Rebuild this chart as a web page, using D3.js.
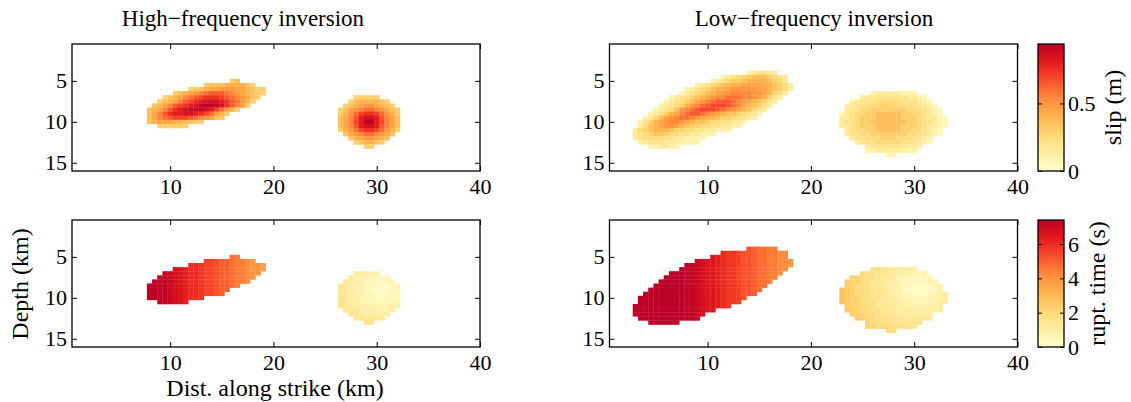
<!DOCTYPE html>
<html><head><meta charset="utf-8">
<script src="https://cdn.jsdelivr.net/npm/d3@7"></script>
<style>
body{margin:0;background:#fff}
text{font-family:"Liberation Serif","Times New Roman",serif;fill:#000}
</style></head>
<body><svg id="chart" width="1131" height="402"></svg>
<script>
// ---------- data ----------
const xTicks = [10, 20, 30, 40];
const yTicks = [5, 10, 15];
const xDomain = [0.5, 40];      // km along strike
const yDomain = [0.5, 16];      // km depth
const slipTicks = [0, 0.5];
const slipMax = 0.94;
const timeTicks = [0, 2, 4, 6];
const timeMax = 7.4;
const cellKm = 0.5;             // grid spacing (km)
const slipStep = 0.05;          // m per level (base-36 char)
const timeStep = 0.25;          // s per level (base-36 char)
const cmapColors = ["#ffffcc","#ffeda0","#fed976","#feb24c","#fd8d3c","#fc4e2a","#e31a1c","#bd0026"];
const titles = ["High\u2212frequency inversion", "Low\u2212frequency inversion"];

// rows: [row index, first column index, levels]; cell centre = index * 0.5 km
const slipHFellipse = [
 [10,32,"67"],
 [11,27,"6777888876"],
 [12,24,"677899aaa998766"],
 [13,21,"6789abcdddcba98766"],
 [14,19,"6789bcdefffedcba976"],
 [15,18,"6789bdefghhhgfdca86"],
 [16,17,"789bdefghijjihfdb96"],
 [17,16,"789bdfghiiihgeca86"],
 [18,16,"79bdfgghhgfeca86"],
 [19,16,"79bcdeeedcba976"],
 [20,16,"78999887766"],
 [21,18,"666666"]
];
const slipHFcircle = [
 [14,56,"66666"],
 [15,55,"67888876"],
 [16,54,"6789aa9876"],
 [17,53,"679abccba976"],
 [18,53,"68aceffeca86"],
 [19,53,"79bdghhgdb97"],
 [20,53,"79begjjgeb97"],
 [21,53,"79bdghhgdb97"],
 [22,53,"68aceffeca86"],
 [23,54,"79abccba97"],
 [24,55,"789aa987"],
 [25,56,"678876"],
 [26,58,"66"]
];
const slipLFellipse = [
 [8,28,"234433"],
 [9,23,"2345667776543"],
 [10,21,"234566788887653"],
 [11,18,"2345677889999887653"],
 [12,16,"234567889aaaaa9987653"],
 [13,15,"23456789aabbbbaa98653"],
 [14,13,"23456789abbcccbba98643"],
 [15,12,"2345679abcdddcba987643"],
 [16,11,"234568abcdeeedcb987643"],
 [17,10,"23457abcdeeedcba987543"],
 [18,9,"234689bcddcba987765432"],
 [19,8,"23579abccba98876654432"],
 [20,7,"24689abba987765544332"],
 [21,7,"35789aa9876655443322"],
 [22,6,"3567888766554433222"],
 [23,6,"3456776554433222"],
 [24,6,"34555544332222"],
 [25,7,"234443332222"],
 [26,9,"223322"]
];
const slipLFcircle = [
 [13,52,"233333222"],
 [14,50,"3344444443321"],
 [15,48,"2344455555444321"],
 [16,47,"234455566655544321"],
 [17,47,"3445566666665544321"],
 [18,46,"23455667777766554321"],
 [19,46,"334566677777666543321"],
 [20,46,"344566777777766544321"],
 [21,46,"334566677777666543321"],
 [22,47,"3455667777766554321"],
 [23,47,"3445566666665544321"],
 [24,48,"3445556665554432"],
 [25,49,"344455555444321"],
 [26,51,"34444444332"],
 [27,51,"2233333222"],
 [28,55,"22"]
];
const timeHFellipse = [
 [10,32,"ji"],
 [11,27,"mmlkkjiihg"],
 [12,24,"oonmmlkkjiihggf"],
 [13,21,"rqpoonmmlkkjiihggf"],
 [14,19,"tsrqpoonmmlkkjiihgg"],
 [15,18,"ttsrqpoonmmlkkjiihg"],
 [16,17,"uttsrqpoonmmlkkjiih"],
 [17,16,"uuttsrqpoonmmlkkji"],
 [18,16,"uuttsrqpoonmmlkk"],
 [19,16,"uuttsrqpoonmmlk"],
 [20,16,"uuttsrqpoon"],
 [21,18,"ttsrqp"]
];
const timeHFcircle = [
 [14,56,"44333"],
 [15,55,"44332222"],
 [16,54,"5443222122"],
 [17,53,"554332211122"],
 [18,53,"554332110112"],
 [19,53,"554332211122"],
 [20,53,"654432221222"],
 [21,53,"654433222223"],
 [22,53,"655443333333"],
 [23,54,"6554443334"],
 [24,55,"65544444"],
 [25,56,"655555"],
 [26,58,"66"]
];
const timeLFellipse = [
 [8,28,"lkjjii"],
 [9,23,"onnmllkjjiihh"],
 [10,21,"qponnmllkjjiihh"],
 [11,18,"srqqponnmllkjjiihhg"],
 [12,16,"ttsrqqponnmllkjjiihhg"],
 [13,15,"uttsrqqponnmllkjjiihh"],
 [14,13,"uuuttsrqqponnmllkjjiih"],
 [15,12,"uuuuttsrqqponnmllkjjii"],
 [16,11,"uuuuuttsrqqponnmllkjji"],
 [17,10,"uuuuuuttsrqqponnmllkjj"],
 [18,9,"uuuuuuuttsrqqponnmllkj"],
 [19,8,"uuuuuuuuttsrqqponnmllk"],
 [20,7,"uuuuuuuuuttsrqqponnml"],
 [21,7,"uuuuuuuuuttsrqqponnm"],
 [22,6,"uuuuuuuuuuttsrqqpon"],
 [23,6,"uuuuuuuuuuttsrqq"],
 [24,6,"uuuuuuuuuuttsr"],
 [25,7,"uuuuuuuuutts"],
 [26,9,"uuuuuu"]
];
const timeLFcircle = [
 [13,52,"776554444"],
 [14,50,"8776654433333"],
 [15,48,"9987765543322222"],
 [16,47,"a99876654433221223"],
 [17,47,"a988766544322111223"],
 [18,46,"ba988766544321101123"],
 [19,46,"ba9887665443221112234"],
 [20,46,"ba9987665443322122334"],
 [21,46,"ba9987765544332223344"],
 [22,47,"a998876654443333344"],
 [23,47,"aa98877655444444444"],
 [24,48,"a998876655544444"],
 [25,49,"a99877666555555"],
 [26,51,"98877766666"],
 [27,51,"9988877766"],
 [28,55,"88"]
];

// ---------- layout ----------
const FS_TICK = 22, FS_LABEL = 24, FS_TITLE = 23;
const PW = 408, PH = 127;
const panels = [
  {left:72,  top:44,  blobs:[slipHFellipse, slipHFcircle], step:slipStep, max:slipMax},
  {left:609.5, top:44,  blobs:[slipLFellipse, slipLFcircle], step:slipStep, max:slipMax},
  {left:72,  top:220, blobs:[timeHFellipse, timeHFcircle], step:timeStep, max:timeMax},
  {left:609.5, top:220, blobs:[timeLFellipse, timeLFcircle], step:timeStep, max:timeMax}
];
const svg = d3.select("#chart");

function cmap(max){
  return d3.scaleLinear()
    .domain(cmapColors.map((_, i) => i * max / (cmapColors.length - 1)))
    .range(cmapColors).interpolate(d3.interpolateRgb).clamp(true);
}
function styleAxis(g){
  g.select(".domain").remove();
  g.selectAll(".tick line").attr("stroke","#000").attr("stroke-width",1);
  g.selectAll(".tick text").attr("font-size",FS_TICK).attr("fill","#000")
    .attr("font-family",'"Liberation Serif","Times New Roman",serif');
}

panels.forEach(p => {
  const x = d3.scaleLinear().domain(xDomain).range([p.left, p.left + PW]);
  const y = d3.scaleLinear().domain(yDomain).range([p.top, p.top + PH]);
  const color = cmap(p.max);
  const cells = [];
  p.blobs.forEach(blob => blob.forEach(([r, c0, s]) => {
    for (let i = 0; i < s.length; i++) {
      cells.push({xc:(c0 + i) * cellKm, zc:r * cellKm, v:parseInt(s[i], 36) * p.step});
    }
  }));
  const g = svg.append("g");
  g.selectAll("rect.cell").data(cells).join("rect").attr("class","cell")
    .attr("x", d => x(d.xc - cellKm/2)).attr("y", d => y(d.zc - cellKm/2))
    .attr("width", d => x(d.xc + cellKm/2) - x(d.xc - cellKm/2) + 0.3)
    .attr("height", d => y(d.zc + cellKm/2) - y(d.zc - cellKm/2) + 0.3)
    .attr("fill", d => color(d.v));
  // axes with inward ticks
  g.append("g").attr("transform",`translate(0,${p.top+PH})`)
    .call(d3.axisBottom(x).tickValues(xTicks).tickSize(-5).tickPadding(7)).call(styleAxis);
  g.append("g").attr("transform",`translate(0,${p.top})`)
    .call(d3.axisTop(x).tickValues(xTicks).tickSize(-5).tickFormat("")).call(styleAxis);
  g.append("g").attr("transform",`translate(${p.left},0)`)
    .call(d3.axisLeft(y).tickValues(yTicks).tickSize(-5).tickPadding(5)).call(styleAxis);
  g.append("g").attr("transform",`translate(${p.left+PW},0)`)
    .call(d3.axisRight(y).tickValues(yTicks).tickSize(-5).tickFormat("")).call(styleAxis);
  g.append("rect").attr("x",p.left).attr("y",p.top).attr("width",PW).attr("height",PH)
    .attr("fill","none").attr("stroke","#000").attr("stroke-width",1.3);
});

// titles
svg.append("text").attr("x",243).attr("y",26).attr("text-anchor","middle").attr("font-size",FS_TITLE).text(titles[0]);
svg.append("text").attr("x",814).attr("y",26).attr("text-anchor","middle").attr("font-size",FS_TITLE).text(titles[1]);
// axis labels
svg.append("text").attr("x",275).attr("y",396).attr("text-anchor","middle").attr("font-size",FS_LABEL).text("Dist. along strike (km)");
svg.append("text").attr("transform","translate(28,284) rotate(-90)").attr("text-anchor","middle").attr("font-size",FS_LABEL).text("Depth (km)");

// colorbars
const cbs = [
  {top:44, max:slipMax, ticks:slipTicks, label:"slip (m)", lx:1121, fmt:d => d === 0 ? "0" : d3.format(".1f")(d)},
  {top:220, max:timeMax, ticks:timeTicks, label:"rupt. time (s)", lx:1105, fmt:d3.format("d")}
];
const defs = svg.append("defs");
cbs.forEach((cb, k) => {
  const cx = 1038, cw = 26;
  const s = d3.scaleLinear().domain([0, cb.max]).range([cb.top + PH, cb.top]);
  const color = cmap(cb.max);
  const grad = defs.append("linearGradient").attr("id","cbg"+k)
    .attr("x1",0).attr("y1",1).attr("x2",0).attr("y2",0);
  d3.range(0, 1.0001, 0.05).forEach(t => grad.append("stop").attr("offset",t).attr("stop-color",color(t*cb.max)));
  svg.append("rect").attr("x",cx).attr("y",cb.top).attr("width",cw).attr("height",PH).attr("fill",`url(#cbg${k})`);
  svg.append("g").attr("transform",`translate(${cx+cw},0)`)
    .call(d3.axisRight(s).tickValues(cb.ticks).tickSize(-4).tickPadding(4).tickFormat(cb.fmt)).call(styleAxis);
  svg.append("g").attr("transform",`translate(${cx},0)`)
    .call(d3.axisLeft(s).tickValues(cb.ticks).tickSize(-4).tickFormat("")).call(styleAxis);
  svg.append("rect").attr("x",cx).attr("y",cb.top).attr("width",cw).attr("height",PH)
    .attr("fill","none").attr("stroke","#000").attr("stroke-width",1.3);
  svg.append("text").attr("transform",`translate(${cb.lx},${cb.top+PH/2}) rotate(-90)`)
    .attr("text-anchor","middle").attr("font-size",FS_LABEL).text(cb.label);
});
</script></body></html>
